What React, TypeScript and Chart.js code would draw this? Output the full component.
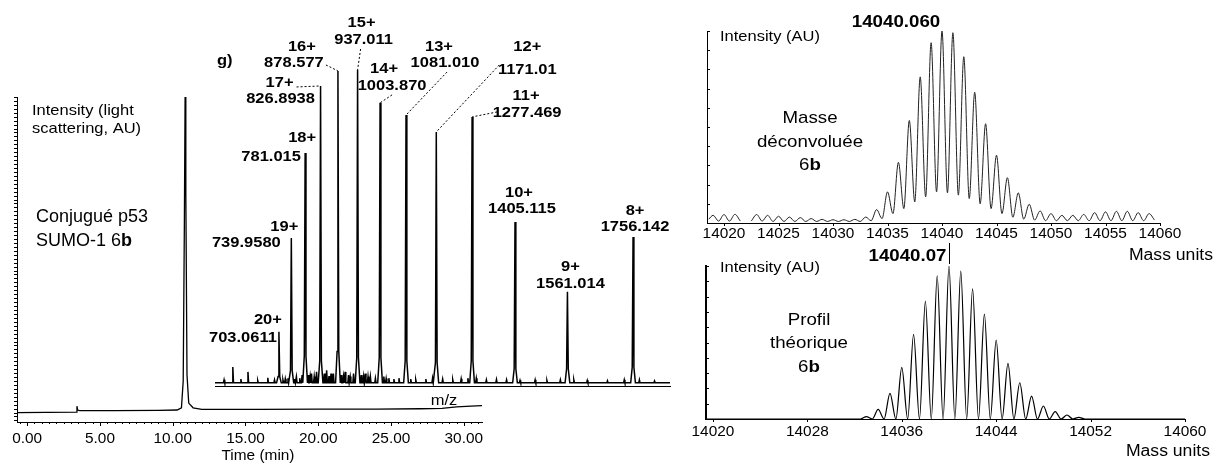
import React, { useEffect, useRef } from "react";
import { Chart, registerables } from "chart.js";

Chart.register(...registerables);

const FONT = '"Liberation Sans", Arial, Helvetica, sans-serif';
const STRETCH = 1.1;

// ---------------- Chromatogram (light scattering) ----------------
const chromTime = [-0.7, 3.38, 3.42, 3.47, 3.6, 6.0, 9.0, 10.3, 10.6, 10.72, 10.8, 10.85, 10.9, 10.98, 11.1, 11.4, 12.0, 16.0, 20.0, 24.0, 27.0, 28.5, 29.5, 30.5, 31.25];
const chromIntensity = [0, 0.1, 2.0, 0.8, 0.6, 0.6, 0.7, 0.8, 1.5, 10, 60, 100, 70, 12, 3, 1.5, 1.0, 1.0, 1.1, 1.1, 1.2, 1.3, 1.8, 2.0, 2.2];
const chromTickLabels = [0, 5, 10, 15, 20, 25, 30];

// ---------------- ESI-MS inset ----------------
const msCharges = ["20+", "19+", "18+", "17+", "16+", "15+", "14+", "13+", "12+", "11+", "10+", "9+", "8+"];
const msMzText = ["703.0611", "739.9580", "781.015", "826.8938", "878.577", "937.011", "1003.870", "1081.010", "1171.01", "1277.469", "1405.115", "1561.014", "1756.142"];
const msIntensity = [16.3, 46.3, 73.5, 94.9, 99.7, 100, 89.5, 85.6, 80.2, 85.0, 51.4, 29.1, 46.6];
const msFoot = [2, 4, 8.6, 7, 10, 8, 8, 7, 6.5, 7, 4.5, 4.5, 5];
const msNoiseMz = [540, 566, 590, 611, 640, 670, 690, 715, 722, 730, 750, 755, 765, 772, 790, 796, 800, 808, 815, 838, 845, 852, 858, 865, 888, 895, 900, 910, 915, 925, 948, 955, 960, 968, 975, 990, 1015, 1022, 1030, 1045, 1060, 1095, 1110, 1140, 1160, 1190, 1220, 1245, 1265, 1290, 1320, 1350, 1380, 1420, 1465, 1500, 1540, 1580, 1620, 1680, 1730, 1775, 1820];
const msNoiseInt = [1.0, 5.1, 1.2, 3.5, 0.8, 1.6, 1.0, 1.0, 1.3, 1.5, 1.2, 2.0, 1.5, 2.5, 2.5, 2.0, 3.0, 2.0, 3.5, 3.0, 4.0, 2.2, 3.0, 3.0, 2.5, 2.0, 3.5, 2.5, 2.0, 3.0, 2.5, 2.0, 3.0, 2.0, 2.0, 1.5, 2.0, 1.4, 1.5, 1.2, 1.5, 1.2, 1.0, 1.2, 1.5, 1.2, 1.0, 1.3, 1.5, 1.5, 1.0, 1.1, 1.0, 0.8, 1.0, 0.8, 1.0, 1.0, 0.8, 0.7, 1.0, 1.0, 0.6];

// ---------------- Deconvoluted mass ----------------
const deconvMass = [14019, 14020, 14021, 14022, 14023, 14024, 14025, 14026, 14027, 14028, 14029, 14030, 14031, 14032, 14033, 14034, 14035, 14036, 14037, 14038, 14039, 14040, 14041, 14042, 14043, 14044, 14045, 14046, 14047, 14048, 14049, 14050, 14051, 14052, 14053, 14054, 14055, 14056, 14057, 14058, 14059];
const deconvPeak = [4.0, 4.4, 4.5, null, 4.4, 4.0, 3.5, 3.1, 2.8, 2.3, 1.9, 1.7, 1.7, 1.9, 3.1, 7.0, 16.2, 31.6, 53.4, 76.1, 93.9, 100, 99.1, 86.6, 68.1, 51.7, 35.3, 23.6, 15.7, 9.8, 6.3, 4.9, 4.0, 4.0, 4.5, 5.4, 5.8, 6.1, 6.1, 5.4, 4.9];
const deconvValley = [1.0, 1.0, 1.0, 1.0, 1.0, 0.8, 0.8, 0.8, 0.8, 0.8, 0.8, 0.8, 0.8, 0.8, 1.2, 2.3, 4.9, 7.5, 11, 13.6, 16.2, 15.7, 14.5, 12.7, 10, 7.5, 4.9, 3.0, 2.0, 1.5, 1.2, 1.2, 1.2, 1.2, 1.2, 1.2, 1.2, 1.2, 1.2, 1.2, 1.5];
const deconvStart = 2.0;
const deconvTicks = [14020, 14025, 14030, 14035, 14040, 14045, 14050, 14055, 14060];

// ---------------- Theoretical profile ----------------
const theoMass = [14033, 14034, 14035, 14036, 14037, 14038, 14039, 14040, 14041, 14042, 14043, 14044, 14045, 14046, 14047, 14048, 14049, 14050, 14051];
const theoInt = [1.5, 6.3, 16.8, 33.8, 55.3, 77.1, 93.5, 100, 96.7, 85, 68.6, 51.6, 36.4, 23.7, 15, 8.5, 4.8, 2.6, 1.1];
const theoTicks = [14020, 14028, 14036, 14044, 14052, 14060];

// label layout (pixel offsets from each peak top): charge line, mass line, leader start
const msLabelLayout: { c: [number, number]; m: [number, number]; l?: [number, number] }[] = [
  { c: [-11, -12], m: [-36, 6] },
  { c: [-7, -11], m: [-45, 5] },
  { c: [-3, -15], m: [-34, 4] },
  { c: [-41, -3], m: [-40, 13], l: [-24, 1] },
  { c: [-36, -24], m: [-44, -8], l: [-12, -6] },
  { c: [4, -47], m: [6, -30], l: [3, -21] },
  { c: [4, -34], m: [12, -17], l: [12, -8] },
  { c: [33, -68], m: [39, -52], l: [41, -43] },
  { c: [91, -85], m: [91, -62], l: [63, -67] },
  { c: [54, -21], m: [55, -4], l: [25, -5] },
  { c: [4, -29], m: [7, -13] },
  { c: [3, -25], m: [3, -8] },
  { c: [2, -26], m: [2, -10] },
];

type Run = { t: string; b?: boolean };

function drawText(
  ctx: CanvasRenderingContext2D,
  runs: Run[] | string,
  x: number,
  y: number,
  size: number,
  align: "left" | "center" | "right" = "left",
  bold = false,
  stretch = STRETCH
) {
  const rs: Run[] = typeof runs === "string" ? [{ t: runs, b: bold }] : runs;
  ctx.save();
  ctx.fillStyle = "#000";
  ctx.textBaseline = "middle";
  ctx.textAlign = "left";
  const font = (b?: boolean) => `${b ? "bold " : ""}${size}px ${FONT}`;
  let w = 0;
  for (const r of rs) {
    ctx.font = font(r.b);
    w += ctx.measureText(r.t).width;
  }
  const total = w * stretch;
  const x0 = align === "left" ? x : align === "center" ? x - total / 2 : x - total;
  ctx.translate(x0, y);
  ctx.scale(stretch, 1);
  let cx = 0;
  for (const r of rs) {
    ctx.font = font(r.b);
    ctx.fillText(r.t, cx, 0);
    cx += ctx.measureText(r.t).width;
  }
  ctx.restore();
}

function seg(ctx: CanvasRenderingContext2D, x1: number, y1: number, x2: number, y2: number) {
  ctx.beginPath();
  ctx.moveTo(x1, y1);
  ctx.lineTo(x2, y2);
  ctx.stroke();
}

const px = (v: number) => Math.round(v) + 0.5;

function axis(size: number, horizontal: boolean, min: number, max: number, borderWidth = 1, display = true) {
  return {
    type: "linear" as const,
    min,
    max,
    display,
    grid: { display: false },
    border: { display: true, color: "#000", width: borderWidth },
    ticks: { display: false },
    afterFit: (s: any) => {
      if (horizontal) s.height = size;
      else s.width = size;
    },
  };
}

const basePlugins = { legend: { display: false }, tooltip: { enabled: false }, title: { display: false } };

function useChart(ref: React.RefObject<HTMLCanvasElement | null>, make: () => any) {
  useEffect(() => {
    if (!ref.current) return;
    const chart = new Chart(ref.current, make());
    return () => chart.destroy();
  }, []);
}

function chromConfig() {
  return {
    type: "scatter",
    data: {
      datasets: [
        {
          data: chromTime.map((t, i) => ({ x: t, y: chromIntensity[i] })),
          showLine: true,
          borderColor: "#000",
          borderWidth: 1.3,
          pointRadius: 0,
          tension: 0,
        },
      ],
    },
    options: {
      responsive: false,
      animation: false,
      devicePixelRatio: 1,
      layout: { padding: { left: 0, top: 97, right: 18, bottom: 0 } },
      plugins: basePlugins,
      scales: {
        x: axis(42, true, -0.7, 31.25),
        y: axis(17, false, -3, 100),
      },
    },
    plugins: [
      {
        id: "chromDecor",
        afterDraw(chart: any) {
          const { ctx } = chart;
          const x = chart.scales.x;
          const y = chart.scales.y;
          ctx.save();
          ctx.strokeStyle = "#000";
          ctx.lineWidth = 1;
          for (let t = -0.5; t <= 31; t += 0.5) {
            const p = px(x.getPixelForValue(t));
            const major = Math.abs(t % 5) < 1e-6;
            seg(ctx, p, x.top, p, x.top + (major ? 4 : 2));
          }
          for (let v = -2.5; v <= 100; v += 1.25) {
            const p = px(y.getPixelForValue(v));
            seg(ctx, y.right - 3, p, y.right, p);
          }
          ctx.restore();
          chromTickLabels.forEach((t) => drawText(ctx, t.toFixed(2), x.getPixelForValue(t), 439, 14, "center"));
          drawText(ctx, "Time (min)", 258, 456, 14, "center");
          drawText(ctx, "Intensity (light", 32, 111, 15);
          drawText(ctx, "scattering, AU)", 32, 129, 15);
          drawText(ctx, "Conjugué p53", 36, 217, 18, "left", false, 1.0);
          drawText(ctx, [{ t: "SUMO-1 6" }, { t: "b", b: true }], 36, 241, 18, "left", false, 1.0);
        },
      },
    ],
  };
}

function msConfig() {
  const mz = msMzText.map(Number);
  const pts: { x: number; y: number }[] = [
    { x: 513, y: 0 },
    { x: 1866, y: 0 },
  ];
  mz.forEach((m, i) => {
    pts.push(
      { x: m - 7, y: 0 },
      { x: m - 2.5, y: msFoot[i] },
      { x: m, y: msIntensity[i] },
      { x: m + 2.5, y: msFoot[i] },
      { x: m + 7, y: 0 }
    );
  });
  msNoiseMz.forEach((m, i) => {
    pts.push({ x: m - 2, y: 0 }, { x: m, y: msNoiseInt[i] }, { x: m + 2, y: 0 });
  });
  pts.sort((a, b) => a.x - b.x);
  return {
    type: "scatter",
    data: {
      datasets: [
        {
          data: pts,
          showLine: true,
          borderColor: "#000",
          borderWidth: 1.5,
          pointRadius: 0,
          tension: 0,
        },
      ],
    },
    options: {
      responsive: false,
      animation: false,
      devicePixelRatio: 1,
      layout: { padding: { left: 215, top: 70, right: 30, bottom: 34 } },
      plugins: basePlugins,
      scales: {
        x: axis(0, true, 513, 1866),
        y: axis(0, false, -1, 100, 1, false),
      },
    },
    plugins: [
      {
        id: "msDecor",
        afterDraw(chart: any) {
          const { ctx } = chart;
          const x = chart.scales.x;
          const y = chart.scales.y;
          mz.forEach((m, i) => {
            const tx = x.getPixelForValue(m);
            const ty = y.getPixelForValue(msIntensity[i]);
            const L = msLabelLayout[i];
            drawText(ctx, msCharges[i], tx + L.c[0], ty + L.c[1], 15, "center", true);
            drawText(ctx, msMzText[i], tx + L.m[0], ty + L.m[1], 15, "center", true);
            if (L.l) {
              ctx.save();
              ctx.strokeStyle = "#000";
              ctx.lineWidth = 1;
              ctx.setLineDash([2, 2]);
              seg(ctx, tx + L.l[0], ty + L.l[1], tx, ty);
              ctx.restore();
            }
          });
          drawText(ctx, "g)", 217, 61, 15, "left", true);
          drawText(ctx, "m/z", 444, 401, 15, "center");
        },
      },
    ],
  };
}

function deconvConfig() {
  const pts: { x: number; y: number | null }[] = [{ x: 14018.6, y: deconvStart }];
  deconvMass.forEach((m, i) => {
    pts.push({ x: m, y: deconvPeak[i] });
    pts.push({ x: m + 0.5, y: deconvValley[i] });
  });
  return {
    type: "scatter",
    data: {
      datasets: [
        {
          data: pts,
          showLine: true,
          spanGaps: false,
          borderColor: "#222",
          borderWidth: 1,
          pointRadius: 0,
          cubicInterpolationMode: "monotone",
          clip: false,
        },
      ],
    },
    options: {
      responsive: false,
      animation: false,
      devicePixelRatio: 1,
      layout: { padding: { left: 17, top: 31, right: 68, bottom: 0 } },
      plugins: basePlugins,
      scales: {
        x: axis(39, true, 14018.44, 14060),
        y: axis(0, false, 0, 100),
      },
    },
    plugins: [
      {
        id: "deconvDecor",
        afterDraw(chart: any) {
          const { ctx } = chart;
          const x = chart.scales.x;
          const y = chart.scales.y;
          ctx.save();
          ctx.strokeStyle = "#000";
          ctx.lineWidth = 1;
          for (let v = 0; v <= 100; v += 10) {
            const p = px(y.getPixelForValue(v));
            seg(ctx, x.left, p, x.left + 3, p);
          }
          deconvTicks.forEach((t) => {
            const p = px(x.getPixelForValue(t));
            seg(ctx, p, x.top, p, x.top + 3);
          });
          ctx.restore();
          deconvTicks.forEach((t) => drawText(ctx, String(t), x.getPixelForValue(t), 234, 14, "center"));
          drawText(ctx, "Intensity (AU)", 30, 37, 15);
          drawText(ctx, "14040.060", 206, 22, 17, "center", true);
          drawText(ctx, "Masse", 120, 118, 17, "center");
          drawText(ctx, "déconvoluée", 120, 142, 17, "center");
          drawText(ctx, [{ t: "6" }, { t: "b", b: true }], 120, 165, 17, "center");
          drawText(ctx, "Mass units", 523, 256, 16, "right");
        },
      },
    ],
  };
}

function theoConfig() {
  const pts: { x: number; y: number }[] = [
    { x: 14019.41, y: 0 },
    { x: theoMass[0] - 0.5, y: 0 },
  ];
  theoMass.forEach((m, i) => {
    pts.push({ x: m, y: theoInt[i] });
    pts.push({ x: m + 0.5, y: 0 });
  });
  pts.push({ x: 14060, y: 0 });
  return {
    type: "scatter",
    data: {
      datasets: [
        {
          data: pts,
          showLine: true,
          borderColor: "#000",
          borderWidth: 1.2,
          pointRadius: 0,
          cubicInterpolationMode: "monotone",
        },
      ],
    },
    options: {
      responsive: false,
      animation: false,
      devicePixelRatio: 1,
      layout: { padding: { left: 16, top: 30, right: 43, bottom: 0 } },
      plugins: basePlugins,
      scales: {
        x: axis(45, true, 14019.41, 14060),
        y: axis(0, false, 0, 100, 2),
      },
    },
    plugins: [
      {
        id: "theoDecor",
        afterDraw(chart: any) {
          const { ctx } = chart;
          const x = chart.scales.x;
          const y = chart.scales.y;
          ctx.save();
          ctx.strokeStyle = "#000";
          ctx.lineWidth = 1;
          for (let v = 0; v <= 100; v += 10) {
            const p = px(y.getPixelForValue(v));
            seg(ctx, x.left, p, x.left + 3, p);
          }
          theoTicks.forEach((t) => {
            const p = px(x.getPixelForValue(t));
            seg(ctx, p, x.top, p, x.top + 3);
          });
          const mx = px(x.getPixelForValue(14040));
          seg(ctx, mx, 7, mx, 28);
          ctx.restore();
          theoTicks.forEach((t) => drawText(ctx, String(t), x.getPixelForValue(t), 196, 14, "center"));
          drawText(ctx, "Intensity (AU)", 30, 32, 15);
          drawText(ctx, "14040.07", mx - 3, 20, 17, "right", true);
          drawText(ctx, "Profil", 119, 84, 17, "center");
          drawText(ctx, "théorique", 119, 107, 17, "center");
          drawText(ctx, [{ t: "6" }, { t: "b", b: true }], 119, 131, 17, "center");
          drawText(ctx, "Mass units", 520, 216, 16, "right");
        },
      },
    ],
  };
}

export default function App() {
  const chromRef = useRef<HTMLCanvasElement>(null);
  const msRef = useRef<HTMLCanvasElement>(null);
  const deconvRef = useRef<HTMLCanvasElement>(null);
  const theoRef = useRef<HTMLCanvasElement>(null);

  useChart(chromRef, chromConfig);
  useChart(msRef, msConfig);
  useChart(deconvRef, deconvConfig);
  useChart(theoRef, theoConfig);

  const abs = (left: number, top: number): React.CSSProperties => ({ position: "absolute", left, top });

  return (
    <div style={{ position: "absolute", left: 0, top: 0, width: 1228, height: 464, background: "#fff", overflow: "hidden" }}>
      <canvas ref={chromRef} width={500} height={464} style={abs(0, 0)} />
      <canvas ref={msRef} width={700} height={420} style={abs(0, 0)} />
      <canvas ref={deconvRef} width={538} height={262} style={abs(690, 0)} />
      <canvas ref={theoRef} width={538} height={228} style={abs(690, 236)} />
    </div>
  );
}
